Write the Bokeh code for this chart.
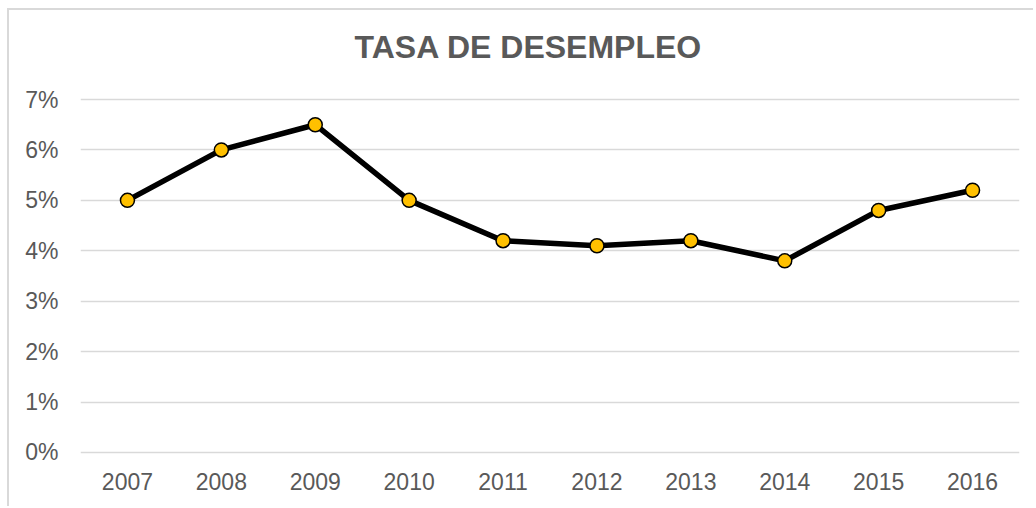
from bokeh.plotting import figure
from bokeh.models import FactorRange, Range1d, FixedTicker, PrintfTickFormatter, ColumnDataSource, Title
from bokeh.embed import file_html
from bokeh.resources import INLINE

years = ["2007", "2008", "2009", "2010", "2011", "2012", "2013", "2014", "2015", "2016"]
rates = [5.0, 6.0, 6.5, 5.0, 4.2, 4.1, 4.2, 3.8, 4.8, 5.2]
y_ticks = [0, 1, 2, 3, 4, 5, 6, 7]
title_text = "TASA DE DESEMPLEO"

src = ColumnDataSource(data=dict(year=years, rate=rates))

p = figure(
    width=1026, height=498,
    x_range=FactorRange(factors=years),
    y_range=Range1d(-0.04, 7.04),
    output_backend="svg", toolbar_location=None,
    min_border_left=71, min_border_right=16, min_border_top=87, min_border_bottom=54,
)
p.styles = {"border-top": "2px solid #d9d9d9", "border-left": "2px solid #d9d9d9",
            "margin-left": "7px", "margin-top": "8px"}

spacer = Title(text=" ", text_font_size="1px", standoff=25)
p.add_layout(spacer, "above")
main_title = Title(text=title_text, text_font="Liberation Sans", text_font_size="32px",
                   text_font_style="bold", text_color="#595959", align="left",
                   offset=274, standoff=10)
p.add_layout(main_title, "above")

p.outline_line_color = None
p.background_fill_color = "white"
p.border_fill_color = "white"

p.xgrid.grid_line_color = None
p.ygrid.grid_line_color = "#d9d9d9"
p.ygrid.grid_line_width = 1.5
p.yaxis.ticker = FixedTicker(ticks=y_ticks)
p.yaxis.formatter = PrintfTickFormatter(format="%d%%")

for ax in (p.xaxis, p.yaxis):
    ax.axis_line_color = None
    ax.major_tick_line_color = None
    ax.minor_tick_line_color = None
    ax.major_tick_out = 0
    ax.major_tick_in = 0
    ax.major_label_text_font = "Liberation Sans"
    ax.major_label_text_font_size = "23px"
    ax.major_label_text_color = "#595959"
p.yaxis.major_label_standoff = 22
p.xaxis.major_label_standoff = 18

p.line("year", "rate", source=src, line_color="black", line_width=5.5, line_join="round")
p.scatter("year", "rate", source=src, size=14, fill_color="#FFC000", line_color="black", line_width=1.5)

open("out.html", "w").write(file_html(p, INLINE))
